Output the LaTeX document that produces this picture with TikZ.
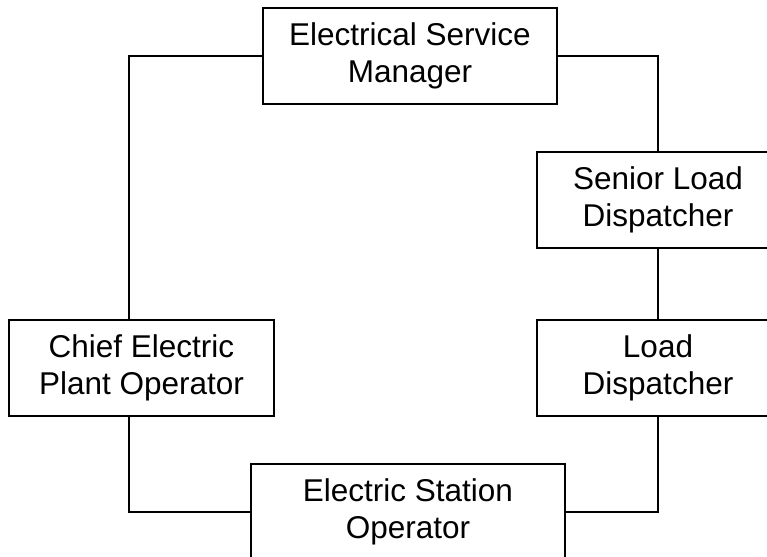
\documentclass[tikz,border=0pt]{standalone}
\usepackage{fontspec}
\setmainfont{Liberation Sans}
\usetikzlibrary{positioning}

\begin{document}
\begin{tikzpicture}[x=1pt,y=-1pt,
  post/.style={draw,line width=1.8pt,minimum height=96pt,align=center,
    font=\fontsize{31.5}{37}\selectfont},
  link/.style={line width=1.8pt}]
\useasboundingbox (0,0) rectangle (767,556);
\clip (0,0) rectangle (767,556);
\foreach \name/\x/\y/\w/\title in {
esm/410/56/294/{Electrical Service\\Manager},
sld/658/200/242/{Senior Load\\Dispatcher},
ld/658/368/242/{Load\\Dispatcher},
cepo/141.5/368/265/{Chief Electric\\Plant Operator},
eso/408/512/314/{Electric Station\\Operator}}
{
  \node[post,minimum width=\w pt] (\name) at (\x,\y) {\title};
}
\draw[link] (esm.west) -| ([xshift=-12.5pt]cepo.north);
\draw[link] (esm.east) -| (sld.north);
\draw[link] (sld) -- (ld);
\draw[link] (ld.south) |- (eso.east);
\draw[link] ([xshift=-12.5pt]cepo.south) |- (eso.west);
\end{tikzpicture}
\end{document}
